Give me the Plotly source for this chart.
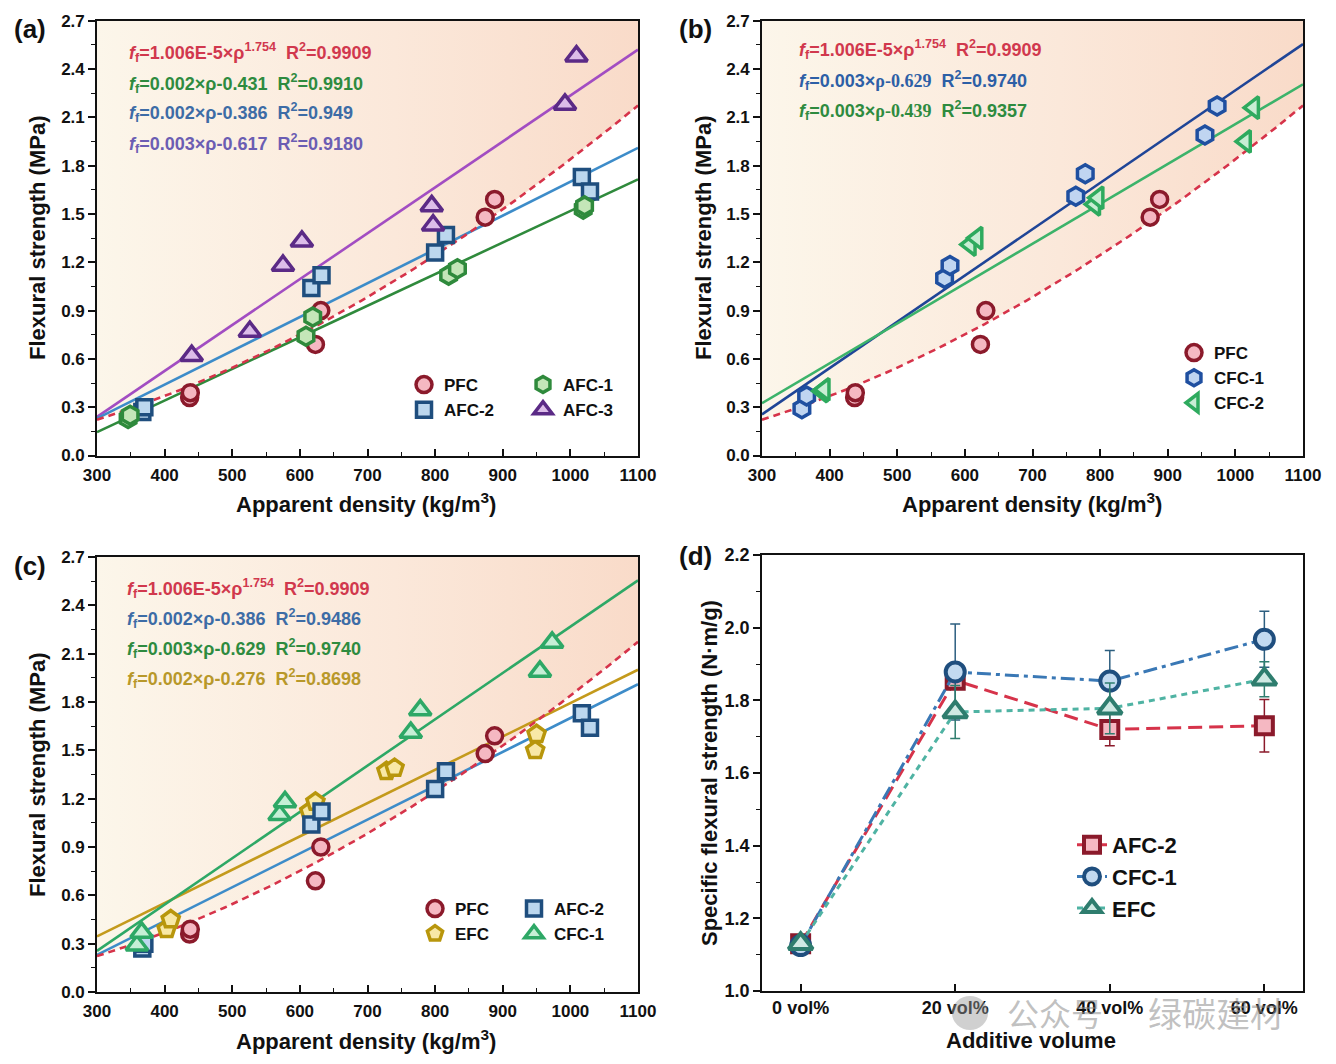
import numpy as np
import plotly.graph_objects as go

# ---------------- data ----------------
PFC_rho = [437, 438, 623, 631, 874, 888]
PFC_f = [0.36, 0.39, 0.69, 0.90, 1.48, 1.59]
AFC1_rho = [346, 349, 609, 619, 820, 833, 1019, 1021]
AFC1_f = [0.23, 0.25, 0.74, 0.86, 1.12, 1.16, 1.53, 1.55]
AFC2_rho = [367, 370, 617, 632, 800, 816, 1017, 1029]
AFC2_f = [0.27, 0.30, 1.04, 1.12, 1.26, 1.37, 1.73, 1.64]
AFC3_rho = [440, 526, 575, 603, 795, 797, 992, 1009]
AFC3_f = [0.62, 0.77, 1.18, 1.33, 1.55, 1.43, 2.18, 2.48]
CFC1_rho = [359, 366, 570, 578, 764, 778, 955, 973]
CFC1_f = [0.29, 0.37, 1.10, 1.18, 1.61, 1.75, 1.99, 2.17]
CFC2_rho = [389, 392, 608, 618, 792, 797, 1015, 1027]
CFC2_f = [0.40, 0.41, 1.31, 1.35, 1.56, 1.60, 1.95, 2.16]
EFC_rho = [403, 409, 614, 623, 728, 740, 948, 950]
EFC_f = [0.39, 0.45, 1.12, 1.18, 1.37, 1.39, 1.50, 1.60]

# fitted lines (end points)
FIT_X = [300, 1100]
AFC1_fit = [0.145, 1.715]
AFC2_fit = [0.23, 1.91]
AFC3_fit = [0.24, 2.52]
CFC1_fit = [0.255, 2.555]
CFC2_fit = [0.325, 2.305]
EFC_fit = [0.345, 2.00]
# power fit for PFC: f = A * rho^B
PFC_A = 1.006e-5
PFC_B = 1.754

# panel (d)
VOL_LABELS = ["0 vol%", "20 vol%", "40 vol%", "60 vol%"]
D_AFC2 = [1.13, 1.855, 1.72, 1.73]
D_AFC2_err = [0.01, 0.02, 0.045, 0.072]
D_CFC1 = [1.125, 1.878, 1.853, 1.968]
D_CFC1_err = [0.01, 0.132, 0.084, 0.077]
D_EFC = [1.13, 1.768, 1.778, 1.858]
D_EFC_err = [0.01, 0.073, 0.07, 0.048]

# ---------------- helpers ----------------
W, H = 1336, 1064
def px(x):
    return x / W
def py(y):
    return 1 - y / H

FONT = "Liberation Sans, Arial, sans-serif"
RED = "#d6334a"
MAROON = "#8b1a2b"
PINK = "#f5b8c2"

fig = go.Figure()

rho_curve = np.linspace(FIT_X[0], FIT_X[1], 120)
pfc_curve = PFC_A * rho_curve ** PFC_B

def add_shade(xa, ya):
    xs = list(rho_curve) + [FIT_X[1], FIT_X[0]]
    ys = list(pfc_curve) + [2.7, 2.7]
    fig.add_trace(go.Scatter(x=xs, y=ys, xaxis=xa, yaxis=ya, mode="lines",
                             line=dict(width=0), fill="toself",
                             fillgradient=dict(type="horizontal",
                                               colorscale=[[0, "#fcf6ea"], [0.55, "#fbe8da"], [1, "#f9dbc9"]]),
                             hoverinfo="skip", showlegend=False))

def add_pfc_curve(xa, ya):
    fig.add_trace(go.Scatter(x=rho_curve, y=pfc_curve, xaxis=xa, yaxis=ya, mode="lines",
                             line=dict(color=RED, width=2.6, dash="7px,5px"),
                             hoverinfo="skip", showlegend=False))

def add_fit(xa, ya, yv, color):
    fig.add_trace(go.Scatter(x=FIT_X, y=yv, xaxis=xa, yaxis=ya, mode="lines",
                             line=dict(color=color, width=2.6), hoverinfo="skip", showlegend=False))

def add_pts(xa, ya, xv, yv, name, symbol, edge, fill, legend, size=16):
    fig.add_trace(go.Scatter(x=xv, y=yv, xaxis=xa, yaxis=ya, mode="markers", name=name,
                             marker=dict(symbol=symbol, size=size, color=fill,
                                         line=dict(color=edge, width=3.5)),
                             legend=legend, showlegend=True))

GREEN = "#2f8a3c"; GREEN_F = "#c4e6b8"
BLUE_E = "#1f4e7e"; BLUE_F = "#bcd7ee"; BLUE_L = "#3d8cc9"
PURP_E = "#5b2a86"; PURP_F = "#dcbde9"; PURP_L = "#a24dc2"
CB_E = "#1f4fa0"; CB_F = "#c0d5f1"; CB_L = "#1f4597"
CG_E = "#2eaa5e"; CG_F = "#c8edd4"; CG_L = "#3cb36a"
GOLD_E = "#b8960c"; GOLD_F = "#f8e8a6"; GOLD_L = "#c49a1c"

# ---- panel a ----
add_shade("x", "y")
add_fit("x", "y", AFC3_fit, PURP_L)
add_fit("x", "y", AFC2_fit, BLUE_L)
add_fit("x", "y", AFC1_fit, GREEN)
add_pfc_curve("x", "y")
add_pts("x", "y", PFC_rho, PFC_f, "PFC", "circle", MAROON, PINK, "legend")
add_pts("x", "y", AFC2_rho, AFC2_f, "AFC-2", "square", BLUE_E, BLUE_F, "legend", 15)
add_pts("x", "y", AFC1_rho, AFC1_f, "AFC-1", "hexagon", GREEN, GREEN_F, "legend2", 18)
add_pts("x", "y", AFC3_rho, AFC3_f, "AFC-3", "triangle-up", PURP_E, PURP_F, "legend2", 19)

# ---- panel b ----
add_shade("x2", "y2")
add_fit("x2", "y2", CFC1_fit, CB_L)
add_fit("x2", "y2", CFC2_fit, CG_L)
add_pfc_curve("x2", "y2")
add_pts("x2", "y2", PFC_rho, PFC_f, "PFC", "circle", MAROON, PINK, "legend3")
add_pts("x2", "y2", CFC1_rho, CFC1_f, "CFC-1", "hexagon", CB_E, CB_F, "legend3", 18)
add_pts("x2", "y2", CFC2_rho, CFC2_f, "CFC-2", "triangle-left", CG_E, CG_F, "legend3", 19)

# ---- panel c ----
add_shade("x3", "y3")
add_fit("x3", "y3", AFC2_fit, BLUE_L)
add_fit("x3", "y3", EFC_fit, GOLD_L)
add_fit("x3", "y3", CFC1_fit, "#2ea866")
add_pfc_curve("x3", "y3")
add_pts("x3", "y3", PFC_rho, PFC_f, "PFC", "circle", MAROON, PINK, "legend4")
add_pts("x3", "y3", EFC_rho, EFC_f, "EFC", "pentagon", GOLD_E, GOLD_F, "legend4", 18)
add_pts("x3", "y3", AFC2_rho, AFC2_f, "AFC-2", "square", BLUE_E, BLUE_F, "legend5", 15)
add_pts("x3", "y3", CFC1_rho, CFC1_f, "CFC-1", "triangle-up", "#2ea866", "#c6efd6", "legend5", 19)

# ---- panel d ----
xi = list(range(len(VOL_LABELS)))
fig.add_trace(go.Scatter(x=xi, y=D_AFC2, xaxis="x4", yaxis="y4", name="AFC-2", mode="lines+markers",
                         line=dict(color=RED, width=3, dash="14px,7px"),
                         marker=dict(symbol="square", size=17, color=PINK, line=dict(color=MAROON, width=4)),
                         error_y=dict(type="data", array=D_AFC2_err, color=MAROON, thickness=1.5, width=5),
                         legend="legend6"))
fig.add_trace(go.Scatter(x=xi, y=D_CFC1, xaxis="x4", yaxis="y4", name="CFC-1", mode="lines+markers",
                         line=dict(color="#3a78b5", width=3, dash="14px,5px,4px,5px"),
                         marker=dict(symbol="circle", size=19, color="#c3daf0", line=dict(color="#1f4e7e", width=4)),
                         error_y=dict(type="data", array=D_CFC1_err, color="#2d5f80", thickness=1.5, width=5),
                         legend="legend6"))
fig.add_trace(go.Scatter(x=xi, y=D_EFC, xaxis="x4", yaxis="y4", name="EFC", mode="lines+markers",
                         line=dict(color="#4fb3a3", width=3, dash="6px,5px"),
                         marker=dict(symbol="triangle-up", size=21, color="#cfe9e3", line=dict(color="#2e7d6e", width=4)),
                         error_y=dict(type="data", array=D_EFC_err, color="#2e7d6e", thickness=1.5, width=5),
                         legend="legend6"))

# ---------------- axes ----------------
tickfont = dict(family=FONT, size=17, color="#111", weight="bold")

def dens_axes(xd, yd):
    xa = dict(domain=xd, range=[300, 1100], dtick=100, tick0=300, ticks="inside", ticklen=7, tickwidth=1.5,
              showline=True, linewidth=1.6, linecolor="#111", mirror=True, showgrid=False, zeroline=False,
              tickfont=tickfont, automargin=False, ticklabelstandoff=3,
              minor=dict(dtick=50, ticks="inside", ticklen=4, tickwidth=1.2, tickcolor="#111"),
              tickcolor="#111")
    ya = dict(domain=yd, range=[0, 2.7], dtick=0.3, tick0=0, ticks="outside", ticklen=7, tickwidth=1.5,
              showline=True, linewidth=1.6, linecolor="#111", mirror=True, showgrid=False, zeroline=False,
              tickfont=tickfont, tickformat=".1f", automargin=False,
              minor=dict(dtick=0.15, ticks="outside", ticklen=4, tickwidth=1.2, tickcolor="#111"),
              tickcolor="#111")
    return xa, ya

xa1, ya1 = dens_axes([px(97), px(638)], [py(455.5), py(20.7)])
xa2, ya2 = dens_axes([px(762), px(1303)], [py(455.5), py(20.7)])
xa3, ya3 = dens_axes([px(97), px(638)], [py(992), py(557)])
xa1.update(anchor="y"); ya1.update(anchor="x")
xa2.update(anchor="y2"); ya2.update(anchor="x2")
xa3.update(anchor="y3"); ya3.update(anchor="x3")

xa4 = dict(domain=[px(762), px(1303)], anchor="y4", range=[-0.25, 3.25], tickvals=xi, ticktext=VOL_LABELS,
           ticks="inside", ticklen=7, tickwidth=1.5, tickcolor="#111", showline=True, linewidth=1.6,
           linecolor="#111", mirror=True, showgrid=False, zeroline=False, automargin=False,
           tickfont=dict(family=FONT, size=18, color="#111", weight="bold"))
ya4 = dict(domain=[py(991), py(555)], anchor="x4", range=[1.0, 2.2], dtick=0.2, tick0=1.0, ticks="outside",
           ticklen=7, tickwidth=1.5, tickcolor="#111", showline=True, linewidth=1.6, linecolor="#111",
           mirror=True, showgrid=False, zeroline=False, tickformat=".1f", automargin=False,
           tickfont=dict(family=FONT, size=18, color="#111", weight="bold"),
           minor=dict(dtick=0.1, ticks="outside", ticklen=4, tickwidth=1.2, tickcolor="#111"))

def leg(xc, ytop, size=17):
    return dict(x=px(xc - 20), y=py(ytop), xanchor="left", yanchor="top", bgcolor="rgba(0,0,0,0)",
                font=dict(family=FONT, size=size, color="#111", weight="bold"), tracegroupgap=0,
                itemsizing="trace")

fig.update_layout(
    width=W, height=H, margin=dict(l=0, r=0, t=0, b=0, autoexpand=False),
    paper_bgcolor="white", plot_bgcolor="white",
    xaxis=xa1, yaxis=ya1, xaxis2=xa2, yaxis2=ya2, xaxis3=xa3, yaxis3=ya3, xaxis4=xa4, yaxis4=ya4,
    legend=leg(424, 367), legend2=leg(543, 367), legend3=leg(1194, 335),
    legend4=leg(435, 891), legend5=leg(534, 891), legend6=leg(1092, 824, 22),
    font=dict(family=FONT),
)

# ---------------- annotations ----------------
ann = []
def text(x, y, s, size=18, color="#111", xanchor="left", angle=0):
    ann.append(dict(x=px(x), y=py(y), xref="paper", yref="paper", text=s, showarrow=False,
                    xanchor=xanchor, yanchor="middle", textangle=angle,
                    font=dict(family=FONT, size=size, color=color, weight="bold")))

ff = "<i>f</i><sub>f</sub>"
pow_eq = ff + "=1.006E-5×ρ<sup>1.754</sup>  R<sup>2</sup>=0.9909"
EQ_RED = "#d1384d"; EQ_GREEN = "#2e8b3f"; EQ_BLUE = "#3d6ca6"; EQ_PURP = "#6b5db3"; EQ_GOLD = "#b8982a"

# panel a
text(127, 52, pow_eq, color=EQ_RED)
text(127, 83, ff + "=0.002×ρ-0.431  R<sup>2</sup>=0.9910", color=EQ_GREEN)
text(127, 113, ff + "=0.002×ρ-0.386  R<sup>2</sup>=0.949", color=EQ_BLUE)
text(127, 143, ff + "=0.003×ρ-0.617  R<sup>2</sup>=0.9180", color=EQ_PURP)
# panel b
serif = "<span style='font-family:Liberation Serif'>"
text(797, 50, pow_eq, color=EQ_RED)
text(797, 80, ff + "=0.003×" + serif + "ρ-0.629</span>  R<sup>2</sup>=0.9740", color="#2d5fa6")
text(797, 110, ff + "=0.003×" + serif + "ρ-0.439</span>  R<sup>2</sup>=0.9357", color=EQ_GREEN)
# panel c
text(125, 588, pow_eq, color=EQ_RED)
text(125, 618, ff + "=0.002×ρ-0.386  R<sup>2</sup>=0.9486", color=EQ_BLUE)
text(125, 648, ff + "=0.003×ρ-0.629  R<sup>2</sup>=0.9740", color=EQ_GREEN)
text(125, 678, ff + "=0.002×ρ-0.276  R<sup>2</sup>=0.8698", color=EQ_GOLD)

# panel labels
text(12, 29, "(a)", size=26)
text(677, 29, "(b)", size=26)
text(12, 566, "(c)", size=26)
text(677, 556, "(d)", size=26)

# axis titles
TS = 22
text(366, 503, "Apparent density (kg/m<sup>3</sup>)", size=TS, xanchor="center")
text(1032, 503, "Apparent density (kg/m<sup>3</sup>)", size=TS, xanchor="center")
text(366, 1040, "Apparent density (kg/m<sup>3</sup>)", size=TS, xanchor="center")
text(1031, 1040, "Additive volume", size=TS, xanchor="center")
text(37, 238, "Flexural strength (MPa)", size=TS, xanchor="center", angle=-90)
text(703, 238, "Flexural strength (MPa)", size=TS, xanchor="center", angle=-90)
text(37, 775, "Flexural strength (MPa)", size=TS, xanchor="center", angle=-90)
text(709, 773, "Specific flexural strength (N·m/g)", size=TS, xanchor="center", angle=-90)

# watermark
ann.append(dict(x=px(1005), y=py(1012), xref="paper", yref="paper", text="公众号", showarrow=False,
                xanchor="left", yanchor="middle",
                font=dict(family="Noto Sans CJK SC", size=32, color="rgba(140,140,140,0.55)")))
ann.append(dict(x=px(1146), y=py(1012), xref="paper", yref="paper", text="绿碳建材", showarrow=False,
                xanchor="left", yanchor="middle",
                font=dict(family="Noto Sans CJK SC", size=34, color="rgba(140,140,140,0.55)")))
fig.update_layout(annotations=ann)
fig.add_shape(type="circle", xref="paper", yref="paper",
              x0=px(952), x1=px(988), y0=py(1030), y1=py(996),
              fillcolor="rgba(150,150,150,0.45)", line=dict(width=0))

fig.write_html("out.html")
